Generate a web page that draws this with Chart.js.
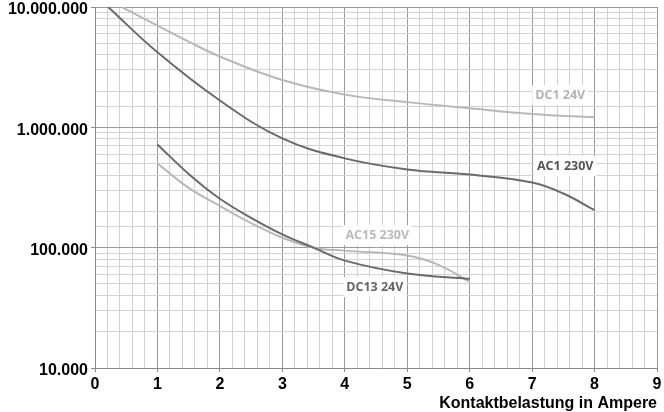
<!DOCTYPE html>
<html>
<head>
<meta charset="utf-8">
<script src="https://cdn.jsdelivr.net/npm/chart.js@4/dist/chart.umd.min.js"></script>
<style>
  html, body { margin: 0; padding: 0; background: #fff; }
  #wrap { width: 664px; height: 412px; }
</style>
</head>
<body>
<div id="wrap"><canvas id="myChart" width="664" height="412"></canvas></div>
<script>
// values (x = Ampere, y = Schaltspiele)
const dc1X  = [0.43, 1, 1.5, 2, 3, 4, 5, 6, 7, 8];
const dc1Y  = [10000000, 7000000, 5150000, 3880000, 2470000, 1870000, 1620000, 1440000, 1290000, 1210000];
const ac1X  = [0.21, 1, 2, 3, 4, 5, 6, 7, 7.5, 8];
const ac1Y  = [10000000, 4200000, 1670000, 809000, 552000, 447000, 405000, 348000, 282000, 205000];
const dc13X = [1, 1.5, 2, 2.5, 3, 3.5, 4, 5, 6];
const dc13Y = [721000, 410000, 255000, 177000, 129000, 100000, 78000, 61000, 55000];
const ac15X = [1, 1.5, 2, 2.5, 3, 3.5, 4, 5, 5.5, 6];
const ac15Y = [501000, 314000, 222000, 160000, 121000, 100000, 94500, 86000, 72000, 52000];

const seriesNames = ['DC1 24V', 'AC1 230V', 'DC13 24V', 'AC15 230V'];
const labelX = [7.45, 7.53, 4.48, 4.52];
const labelY = [1850000, 477000, 47000, 127000];

const dark = '#6a6a6a';
const light = '#b8b8b8';
const colors = [light, dark, dark, light];
const textColors = ['#b4b4b4', '#555555', '#666666', '#bababa'];

function pts(xs, ys) {
    return xs.map((x, i) => ({ x: x, y: ys[i] }));
}

function fmt(v) {
    return Math.round(v).toString().replace(/\B(?=(\d{3})+(?!\d))/g, '.');
}

function isDecade(v) {
    const l = Math.log10(v);
    return Math.abs(l - Math.round(l)) < 1e-9;
}

function isWhole(v) {
    return Math.abs(v - Math.round(v)) < 1e-6;
}

const lineLabels = {
    id: 'lineLabels',
    afterDatasetsDraw(chart) {
        const c = chart.ctx;
        const xs = chart.scales.x, ys = chart.scales.y;
        c.save();
        c.font = 'bold 12.5px "Open Sans", sans-serif';
        c.textAlign = 'center';
        c.textBaseline = 'middle';
        seriesNames.forEach((name, i) => {
            const px = xs.getPixelForValue(labelX[i]);
            const py = ys.getPixelForValue(labelY[i]);
            const w = c.measureText(name).width + 6;
            c.fillStyle = '#fff';
            c.fillRect(px - w / 2, py - 10, w, 20);
            c.fillStyle = textColors[i];
            c.fillText(name, px, py);
        });
        c.restore();
    }
};

const datasets = [
    pts(dc1X, dc1Y), pts(ac1X, ac1Y), pts(dc13X, dc13Y), pts(ac15X, ac15Y)
].map((d, i) => ({
    label: seriesNames[i],
    data: d,
    borderColor: colors[i],
    borderWidth: 2,
    pointRadius: 0,
    fill: false,
    tension: 0.4
}));

const tickFont = { family: '"Liberation Sans", Arial, sans-serif', size: 16, weight: 'bold', lineHeight: 1 };
// y labels sit a few px below their grid line, as in the original
const yTickFont = { family: '"Liberation Sans", Arial, sans-serif', size: 16, weight: 'bold', lineHeight: 0.375 };

new Chart(document.getElementById('myChart'), {
    type: 'line',
    data: { datasets: datasets },
    options: {
        responsive: false,
        animation: false,
        layout: { padding: 0 },
        plugins: { legend: { display: false }, tooltip: { enabled: false } },
        scales: {
            x: {
                type: 'linear',
                min: 0,
                max: 9,
                border: { color: '#8a8a8a', width: 1 },
                grid: {
                    color: ctx => isWhole(ctx.tick.value) ? '#9a9a9a' : '#d2d2d2',
                    tickColor: ctx => isWhole(ctx.tick.value) ? '#8a8a8a' : 'rgba(0,0,0,0)',
                    tickLength: 4
                },
                ticks: {
                    stepSize: 0.2,
                    autoSkip: false,
                    maxRotation: 0,
                    padding: 5,
                    color: '#000',
                    font: tickFont,
                    callback: v => isWhole(v) ? String(Math.round(v)) : ''
                },
                title: {
                    display: true,
                    text: 'Kontaktbelastung in Ampere',
                    align: 'end',
                    color: '#000',
                    padding: 0,
                    font: tickFont
                },
                afterFit: s => { s.height = 44; s.paddingRight = 7; s.paddingLeft = 0; }
            },
            y: {
                type: 'logarithmic',
                min: 10000,
                max: 10000000,
                border: { color: '#8a8a8a', width: 1 },
                grid: {
                    color: ctx => isDecade(ctx.tick.value) ? '#9a9a9a' : '#d2d2d2',
                    tickColor: ctx => isDecade(ctx.tick.value) ? '#8a8a8a' : 'rgba(0,0,0,0)',
                    tickLength: 4
                },
                ticks: {
                    autoSkip: false,
                    padding: 3,
                    color: '#000',
                    font: yTickFont,
                    callback: v => isDecade(v) ? ['', fmt(v)] : ''
                },
                afterFit: s => { s.width = 95; s.paddingTop = 7; s.paddingBottom = 0; }
            }
        }
    },
    plugins: [lineLabels]
});
</script>
</body>
</html>
